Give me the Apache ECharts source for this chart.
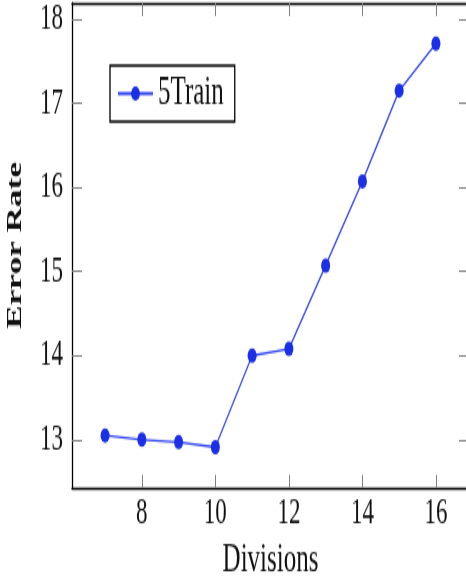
<!DOCTYPE html>
<html>
<head>
<meta charset="utf-8">
<script src="https://cdn.jsdelivr.net/npm/echarts@6/dist/echarts.min.js"></script>
<style>
  html, body { margin: 0; padding: 0; background: #fff; }
  body { width: 466px; height: 578px; position: relative; }
  /* The figure is drawn in a short frame and stretched vertically to its full height. */
  #chart { position: absolute; left: 0; top: 0; width: 466px; height: 361.25px;
           transform: scaleY(1.6); transform-origin: 0 0; }
</style>
</head>
<body>
<div id="chart"></div>
<script>
// Error rate measured for each number of divisions (5Train setting)
const divisions = [7, 8, 9, 10, 11, 12, 13, 14, 15, 16];
const errorRate = [13.05, 13.00, 12.97, 12.91, 14.00, 14.08, 15.07, 16.07, 17.15, 17.71];

// Tick labels on each axis
const xTicks = [8, 10, 12, 14, 16];
const yTicks = [13, 14, 15, 16, 17, 18];

const seriesName = '5Train';
const xTitle = 'Divisions';
const yTitle = 'Error Rate';

const serif = 'Liberation Serif';
const lineColor = '#3446f2';
const markColor = '#1b2fe6';
const tickColor = '#808080';

// Axis range padded by 10% on both sides of the data
const xMin = 6.1, xMax = 16.9;
const yMin = 12.43, yMax = 18.19;

const chart = echarts.init(document.getElementById('chart'));

const axisLine = { show: true, onZero: false, lineStyle: { color: '#000', width: 1.3 } };

function xAxisDef(position, withLabels) {
  return {
    type: 'value', position: position, min: xMin, max: xMax,
    axisLine: axisLine,
    splitLine: { show: false },
    axisTick: { show: true, inside: true, length: 8, customValues: xTicks,
                lineStyle: { color: tickColor, width: 1 } },
    axisLabel: { show: withLabels, customValues: xTicks, margin: 5,
                 fontFamily: serif, fontSize: 23, color: '#111' },
    name: withLabels ? xTitle : '',
    nameLocation: 'middle', nameGap: 32,
    nameTextStyle: { fontFamily: serif, fontSize: 25, color: '#111' }
  };
}

function yAxisDef(position, withLabels) {
  return {
    type: 'value', position: position, min: yMin, max: yMax,
    axisLine: axisLine,
    splitLine: { show: false },
    axisTick: { show: true, inside: true, length: 10, customValues: yTicks,
                lineStyle: { color: tickColor, width: 1 } },
    axisLabel: { show: withLabels, customValues: yTicks, margin: 9,
                 fontFamily: serif, fontSize: 23, color: '#111' },
    name: withLabels ? yTitle : '',
    nameLocation: 'middle', nameGap: 46,
    nameTextStyle: { fontFamily: serif, fontSize: 22, fontWeight: 'bold', color: '#111' }
  };
}

chart.setOption({
  animation: false,
  backgroundColor: '#fff',
  grid: { left: 72, right: -3, top: 2, bottom: 56.25, containLabel: false, outerBoundsMode: 'none' },
  legend: {
    show: true,
    left: 110, top: 41,
    orient: 'vertical',
    borderColor: '#000', borderWidth: 1.3,
    padding: [5, 11, 5, 7],
    itemWidth: 35, itemHeight: 11,
    textStyle: { fontFamily: serif, fontSize: 25, color: '#111' },
    data: [seriesName]
  },
  xAxis: [xAxisDef('bottom', true), xAxisDef('top', false)],
  yAxis: [yAxisDef('left', true), yAxisDef('right', false)],
  series: [{
    name: seriesName,
    type: 'line',
    xAxisIndex: 0, yAxisIndex: 0,
    data: divisions.map((d, i) => [d, errorRate[i]]),
    symbol: 'circle', symbolSize: 9,
    itemStyle: { color: markColor },
    lineStyle: { color: lineColor, width: 1.3 },
    clip: false
  }]
});
</script>
</body>
</html>
